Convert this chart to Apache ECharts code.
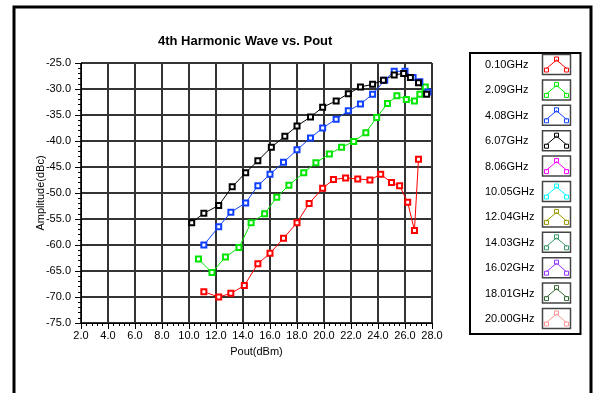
<!DOCTYPE html>
<html><head><meta charset="utf-8">
<script src="https://cdn.jsdelivr.net/npm/echarts@6/dist/echarts.min.js"></script>
<style>html,body{margin:0;padding:0;background:#fff}#c{width:600px;height:393px}</style>
</head><body><div id="c"></div>
<script>
// ---- data ----
const seriesNames = ['0.10GHz','2.09GHz','4.08GHz','6.07GHz','8.06GHz','10.05GHz','12.04GHz','14.03GHz','16.02GHz','18.01GHz','20.00GHz'];
const seriesColors = ['#ff0000','#00e600','#1040ff','#000000','#ff00ff','#00ffff','#999900','#339966','#9933ff','#336633','#ff9999'];

const f010_x = [11.1, 12.2, 13.1, 14.1, 15.1, 16.0, 17.0, 18.0, 18.9, 19.9, 20.7, 21.6, 22.5, 23.4, 24.2, 25.0, 25.6, 26.2, 26.7, 27.0];
const f010_y = [-69.0, -70.0, -69.3, -67.8, -63.6, -61.6, -58.7, -55.7, -52.0, -49.1, -47.4, -47.1, -47.3, -47.5, -46.4, -48.0, -48.6, -51.8, -57.2, -43.5];

const f209_x = [10.7, 11.7, 12.7, 13.7, 14.6, 15.6, 16.5, 17.4, 18.5, 19.4, 20.4, 21.3, 22.2, 23.1, 23.9, 24.7, 25.4, 26.1, 26.7, 27.1, 27.5];
const f209_y = [-62.7, -65.3, -62.3, -60.5, -55.7, -54.0, -50.8, -48.5, -46.1, -44.2, -42.5, -41.2, -40.1, -38.4, -35.5, -32.8, -31.3, -32.0, -32.3, -31.0, -29.6];

const f408_x = [11.1, 12.2, 13.1, 14.2, 15.1, 16.0, 17.0, 18.0, 19.0, 19.9, 20.9, 21.8, 22.7, 23.6, 24.5, 25.2, 26.0, 26.6, 27.1, 27.7];
const f408_y = [-60.0, -56.5, -53.7, -51.9, -48.6, -46.4, -44.1, -41.7, -39.4, -37.5, -35.8, -34.2, -32.9, -31.0, -28.3, -26.6, -26.6, -27.8, -28.6, -30.6];

const f607_x = [10.2, 11.1, 12.2, 13.2, 14.2, 15.1, 16.1, 17.1, 18.0, 19.0, 19.9, 20.9, 21.8, 22.7, 23.6, 24.4, 25.2, 25.9, 26.4, 27.0, 27.6];
const f607_y = [-55.7, -53.9, -52.4, -48.8, -46.1, -43.8, -41.2, -39.1, -37.1, -35.4, -33.5, -32.3, -30.9, -29.6, -29.1, -28.3, -27.3, -27.0, -27.8, -28.8, -31.0];

const xAxisMin = 2.0, xAxisMax = 28.0, xAxisStep = 2.0;
const yAxisMin = -75.0, yAxisMax = -25.0, yAxisStep = 5.0;
const titleText = '4th Harmonic Wave vs. Pout';
const xAxisTitle = 'Pout(dBm)';
const yAxisTitle = 'Amplitude(dBc)';

// ---- build ----
const zip = (xs, ys) => xs.map((x, i) => [x, ys[i]]);
const dataSets = [zip(f010_x, f010_y), zip(f209_x, f209_y), zip(f408_x, f408_y), zip(f607_x, f607_y)];

const FONT = 'Liberation Sans, Arial, sans-serif';
const iconPath = 'path://M0,0M27,19M3.5,13L13.5,4.5L23.5,13M1.5,12.5h4v4h-4ZM11.5,1.5h4v4h-4ZM21.5,12.5h4v4h-4Z';

const series = seriesNames.map((name, i) => ({
  name: name,
  type: 'line',
  data: dataSets[i] || [],
  symbol: 'emptyRect',
  symbolSize: 5,
  showAllSymbol: true,
  color: seriesColors[i],
  lineStyle: { width: 1, color: seriesColors[i] },
  itemStyle: { color: seriesColors[i], borderColor: seriesColors[i], borderWidth: 1 },
  emphasis: { disabled: true },
  animation: false,
  z: 3
}));

const LEG_TOP = 55, LEG_ITEM_H = 19, LEG_STEP = 25.4, ICON_X = 543, ICON_W = 27;
const graphics = [
  { type: 'rect', shape: { x: 14, y: 7, width: 577, height: 420 }, style: { fill: 'none', stroke: '#000', lineWidth: 3 }, silent: true }
];
seriesNames.forEach((n, i) => {
  graphics.push({
    type: 'rect',
    shape: { x: ICON_X - 0.5, y: LEG_TOP + i * LEG_STEP - 0.5, width: ICON_W + 1, height: LEG_ITEM_H + 1 },
    style: { fill: 'none', stroke: '#444', lineWidth: 1.5 },
    silent: true, z: 10
  });
});

const chart = echarts.init(document.getElementById('c'), null, { renderer: 'canvas' });
chart.setOption({
  animation: false,
  backgroundColor: '#fff',
  title: {
    text: titleText, left: 158, top: 35, padding: 0,
    textStyle: { fontFamily: FONT, fontSize: 13, fontWeight: 'bold', color: '#000' }
  },
  grid: { left: 81, top: 63, right: 168, bottom: 70, containLabel: false, show: false },
  legend: {
    orient: 'vertical', left: 470, top: 53,
    padding: [2, 10, 5, 15],
    borderColor: '#000', borderWidth: 2,
    align: 'right',
    itemWidth: ICON_W, itemHeight: LEG_ITEM_H, itemGap: LEG_STEP - LEG_ITEM_H - 1,
    selectedMode: false,
    data: seriesNames.map((n, i) => ({
      name: n, icon: iconPath,
      itemStyle: { color: 'transparent', borderColor: seriesColors[i], borderWidth: 1 }
    })),
    formatter: n => '{a|' + n + '}',
    textStyle: {
      fontFamily: FONT, fontSize: 11, color: '#000',
      rich: { a: { width: 53, align: 'left', fontFamily: FONT, fontSize: 11, color: '#000' } }
    }
  },
  xAxis: {
    type: 'value', min: xAxisMin, max: xAxisMax, interval: xAxisStep,
    name: xAxisTitle, nameLocation: 'middle', nameGap: 23, nameMoveOverlap: false,
    nameTextStyle: { fontFamily: FONT, fontSize: 11, color: '#000' },
    axisLine: { show: true, onZero: false, lineStyle: { color: '#000', width: 1 } },
    axisTick: { show: true, length: 6, lineStyle: { color: '#000' } },
    minorTick: { show: true, splitNumber: 5, length: 3, lineStyle: { color: '#000' } },
    axisLabel: { fontFamily: FONT, fontSize: 11, color: '#000', margin: 7, formatter: v => v.toFixed(1) },
    splitLine: { show: true, lineStyle: { color: '#333', width: 2 } }
  },
  yAxis: {
    type: 'value', min: yAxisMin, max: yAxisMax, interval: yAxisStep,
    name: yAxisTitle, nameLocation: 'middle', nameGap: 35, nameMoveOverlap: false,
    nameTextStyle: { fontFamily: FONT, fontSize: 11, color: '#000' },
    axisLine: { show: true, onZero: false, lineStyle: { color: '#000', width: 1 } },
    axisTick: { show: true, length: 6, lineStyle: { color: '#000' } },
    minorTick: { show: true, splitNumber: 5, length: 3, lineStyle: { color: '#000' } },
    axisLabel: { fontFamily: FONT, fontSize: 11, color: '#000', margin: 10, formatter: v => v.toFixed(1) },
    splitLine: { show: true, lineStyle: { color: '#333', width: 2 } }
  },
  graphic: graphics,
  series: series
});
</script></body></html>
